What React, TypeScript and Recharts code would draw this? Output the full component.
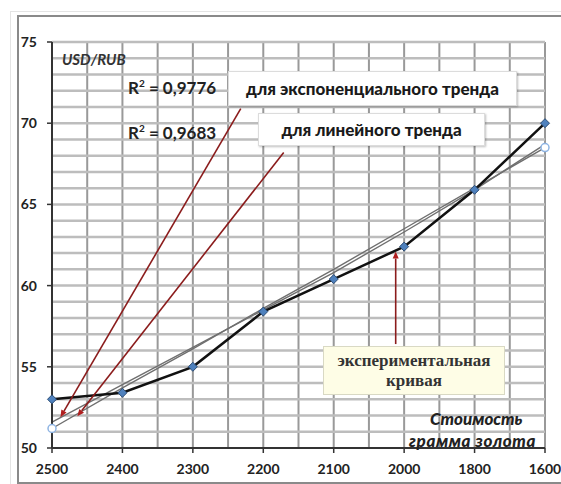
import React from 'react';
import {
  LineChart,
  Line,
  XAxis,
  YAxis,
  CartesianGrid,
  ReferenceLine,
} from 'recharts';

// price of a gram of gold (categories, left to right)
const GOLD_PRICE = ['2500', '2400', '2300', '2200', '2100', '2000', '1800', '1600'];
// USD/RUB rate, experimental curve
const EXPERIMENTAL = [53, 53.4, 55, 58.4, 60.4, 62.4, 65.9, 70];
// trend lines as drawn on the picture
const LINEAR_TREND = [51.2, 53.7, 56.1, 58.6, 61.0, 63.5, 66.0, 68.5];
const EXP_TREND = [51.6, 53.9, 56.2, 58.5, 60.8, 63.3, 65.9, 68.7];

const Y_TICKS = [50, 55, 60, 65, 70, 75];
const X_TICKS = [0, 1, 2, 3, 4, 5, 6, 7];
const GRID_X = [0, 0.5, 1, 1.5, 2, 2.5, 3, 3.5, 4, 4.5, 5, 5.5, 6, 6.5, 7];
const GRID_Y = [51, 52, 53, 54, 55, 56, 57, 58, 59, 60, 61, 62, 63, 64, 65, 66, 67, 68, 69, 70, 71, 72, 73, 74, 75];

// annotation arrows, in data units: [x1, y1, x2, y2]
const ARROWS = [
  [2.68, 70.9, 0.12, 51.9],
  [3.29, 68.2, 0.36, 51.95],
  [4.88, 56.4, 4.88, 62.1],
];

const data = GOLD_PRICE.map((p, i) => ({
  idx: i,
  price: p,
  exp: EXPERIMENTAL[i],
  lin: LINEAR_TREND[i],
  expo: EXP_TREND[i],
}));

const Diamond = (props: any) => {
  const { cx, cy, index } = props;
  if (cx == null || cy == null) return <g key={index} />;
  const r = 4.5;
  return (
    <path
      key={index}
      d={`M${cx},${cy - r} L${cx + r},${cy} L${cx},${cy + r} L${cx - r},${cy} Z`}
      fill="#4f81bd"
      stroke="#2c4d75"
      strokeWidth={1}
    />
  );
};

const EndCircle = (props: any) => {
  const { cx, cy, index } = props;
  if (index !== 0 && index !== GOLD_PRICE.length - 1) return <g key={index} />;
  return <circle key={index} cx={cx} cy={cy} r={4} fill="#fff" stroke="#8eb4e3" strokeWidth={1.5} />;
};

const Arrow = (props: any) => {
  const { x1, y1, x2, y2 } = props;
  const a = Math.atan2(y2 - y1, x2 - x1);
  const len = 7;
  const w = 3;
  const bx = x2 - len * Math.cos(a);
  const by = y2 - len * Math.sin(a);
  const px = -Math.sin(a) * w;
  const py = Math.cos(a) * w;
  return (
    <g>
      <line x1={x1} y1={y1} x2={bx} y2={by} stroke="#8b1c1c" strokeWidth={1.6} />
      <polygon points={`${x2},${y2} ${bx + px},${by + py} ${bx - px},${by - py}`} fill="#b01e1e" />
    </g>
  );
};

const labelFont = 'Lato, "Open Sans", sans-serif';

const boxStyle: React.CSSProperties = {
  position: 'absolute',
  background: '#fff',
  border: '1px solid #dcdcdc',
  boxShadow: '1px 1px 2px rgba(0,0,0,0.25)',
  display: 'flex',
  alignItems: 'center',
  justifyContent: 'center',
  font: `900 17px ${labelFont}`,
  color: '#1a1a1a',
  boxSizing: 'border-box',
};

export default function App() {
  return (
    <div style={{ position: 'absolute', left: 0, top: 0, width: 561, height: 484, background: '#fff', overflow: 'hidden' }}>
      <div style={{ position: 'absolute', left: 10, top: 11, width: 560, height: 480, border: '1px solid #e4e4e4' }} />
      <div
        style={{
          position: 'absolute',
          left: 17,
          top: 15,
          width: 560,
          height: 465,
          borderTop: '2px solid #8a8a8a',
          borderLeft: '2px solid #8a8a8a',
          borderBottom: '2px solid #8a8a8a',
        }}
      />
      <div style={{ position: 'absolute', left: 0, top: 0 }}>
        <LineChart width={561} height={484} data={data} margin={{ top: 42, right: 16, bottom: 6, left: 0 }}>
          <XAxis xAxisId="g" type="number" dataKey="idx" domain={[0, 7]} ticks={GRID_X} hide />
          {GRID_Y.map((v) => (
            <ReferenceLine key={'g' + v} y={v} stroke="#bdbdbd" strokeWidth={2.5} />
          ))}
          <CartesianGrid xAxisId="g" horizontal={false} stroke="#999" strokeWidth={2} />
          <XAxis
            dataKey="idx"
            type="number"
            domain={[0, 7]}
            ticks={X_TICKS}
            tickFormatter={(v) => GOLD_PRICE[v]}
            height={30}
            tickSize={5}
            tickMargin={11}
            axisLine={{ stroke: '#333', strokeWidth: 2 }}
            tickLine={{ stroke: '#333', strokeWidth: 1.5 }}
            tick={{ fill: '#222', fontSize: 14, fontWeight: 700, fontFamily: labelFont }}
            interval={0}
          />
          <YAxis
            type="number"
            domain={[50, 75]}
            ticks={Y_TICKS}
            width={52}
            tickSize={5}
            tickMargin={10}
            axisLine={{ stroke: '#333', strokeWidth: 2 }}
            tickLine={{ stroke: '#333', strokeWidth: 1.5 }}
            tick={{ fill: '#222', fontSize: 14, fontWeight: 700, fontFamily: labelFont }}
          />
          <Line dataKey="expo" stroke="#6f6f6f" strokeWidth={1.4} dot={false} isAnimationActive={false} />
          <Line dataKey="lin" stroke="#6f6f6f" strokeWidth={1.4} dot={EndCircle} isAnimationActive={false} />
          <Line dataKey="exp" stroke="#111" strokeWidth={2.5} dot={Diamond} isAnimationActive={false} />
          {ARROWS.map((s, i) => (
            <ReferenceLine
              key={i}
              segment={[
                { x: s[0], y: s[1] },
                { x: s[2], y: s[3] },
              ]}
              shape={Arrow}
              ifOverflow="visible"
            />
          ))}
        </LineChart>
      </div>

      <div style={{ position: 'absolute', left: 62, top: 50, font: `italic 700 15px ${labelFont}`, color: '#333' }}>USD/RUB</div>
      <div style={{ position: 'absolute', left: 128, top: 77, font: `700 17px ${labelFont}`, color: '#222' }}>
        R<sup style={{ fontSize: 10 }}>2</sup> = 0,9776
      </div>
      <div style={{ position: 'absolute', left: 128, top: 122, font: `700 17px ${labelFont}`, color: '#222' }}>
        R<sup style={{ fontSize: 10 }}>2</sup> = 0,9683
      </div>

      <div style={{ ...boxStyle, left: 228, top: 71, width: 289, height: 35 }}>для экспоненциального тренда</div>
      <div style={{ ...boxStyle, left: 258, top: 113, width: 227, height: 33 }}>для линейного тренда</div>
      <div
        style={{
          position: 'absolute',
          left: 323,
          top: 346,
          width: 182,
          height: 49,
          background: '#fefde6',
          border: '1px solid #d9d9c4',
          display: 'flex',
          flexDirection: 'column',
          alignItems: 'center',
          justifyContent: 'center',
          font: `700 17px "Liberation Serif", serif`,
          lineHeight: '20px',
          color: '#333',
          boxSizing: 'border-box',
        }}
      >
        <span>экспериментальная</span>
        <span>кривая</span>
      </div>

      <div style={{ position: 'absolute', left: 430, top: 408, font: `italic 900 17px ${labelFont}`, color: '#222' }}>Стоимость</div>
      <div style={{ position: 'absolute', left: 409, top: 430, font: `italic 900 17px ${labelFont}`, color: '#222', letterSpacing: 0.6 }}>
        грамма золота
      </div>
    </div>
  );
}
